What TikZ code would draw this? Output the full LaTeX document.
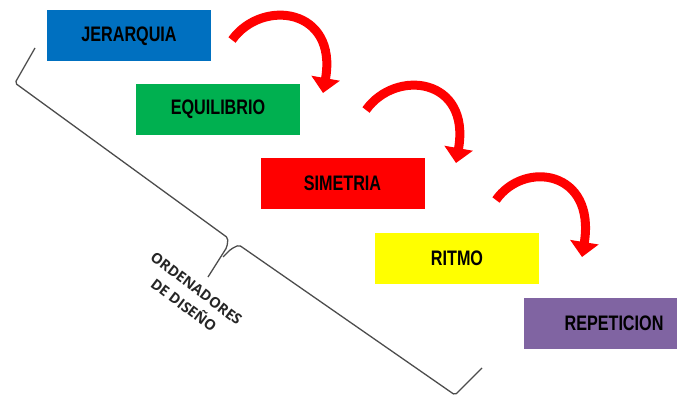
\documentclass[tikz,border=0pt]{standalone}
\usepackage{fontspec}
\newfontfamily\boxfont[FakeStretch=0.77]{Liberation Sans}
\newfontfamily\lblfont{Open Sans}
\usepackage{tikz}
\usetikzlibrary{arrows.meta}
\usepackage{xcolor}
\definecolor{cblue}{HTML}{0070C0}
\definecolor{cgreen}{HTML}{00B050}
\definecolor{cred}{HTML}{FF0000}
\definecolor{cyellow}{HTML}{FFFF00}
\definecolor{cpurple}{HTML}{8064A2}

\begin{document}
\begin{tikzpicture}[
    x=1pt, y=-1pt,
    box/.style={minimum width=164pt, minimum height=51pt, inner sep=0pt, font=\boxfont\fontsize{21}{24}\selectfont\bfseries},
    lbl/.style={font=\lblfont\fontsize{14.5}{21}\selectfont\bfseries, text=black!85, align=center, rotate=-37},
    arrow/.style={-{Triangle[width=28pt, length=15pt]}, line width=9pt, draw=cred},
    brk/.style={draw=black!70, line width=1.3pt, rounded corners=2pt}
]
    \useasboundingbox (0,0) rectangle (677,396);
    \clip (0,0) rectangle (677,396);

    \node[box, fill=cblue] (b1) at (129,36) {JERARQUIA};
    \node[box, fill=cgreen] (b2) at (218,109) {EQUILIBRIO};
    \node[box, fill=cred] (b3) at (342.5,183) {SIMETRIA};
    \node[box, fill=cyellow] (b4) at (457,258.5) {RITMO};
    \node[box, fill=cpurple, minimum width=180pt] (b5) at (614,323) {REPETICION};

    % flechas curvas
    \coordinate (a1s) at (232,40);
    \coordinate (a1e) at (323,93);
    \draw[arrow] (a1s) .. controls (262,-2) and (338,8) .. (a1e);
    \coordinate (a2s) at (366,110);
    \coordinate (a2e) at (456,163);
    \draw[arrow] (a2s) .. controls (396,68) and (471,78) .. (a2e);
    \coordinate (a3s) at (496,200);
    \coordinate (a3e) at (582,257);
    \draw[arrow] (a3s) .. controls (524,160) and (596,170) .. (a3e);

    % llave
    \draw[brk] (35,48) -- (15,83) -- (228,238) -- (227,247) -- (208,277);
    \draw[brk] (223,257) -- (231,249) -- (239,245) -- (455,395) -- (482,368);
    \node[lbl] (ord) at (190,297) {ORDENADORES\\DE DISEÑO};
\end{tikzpicture}
\end{document}
